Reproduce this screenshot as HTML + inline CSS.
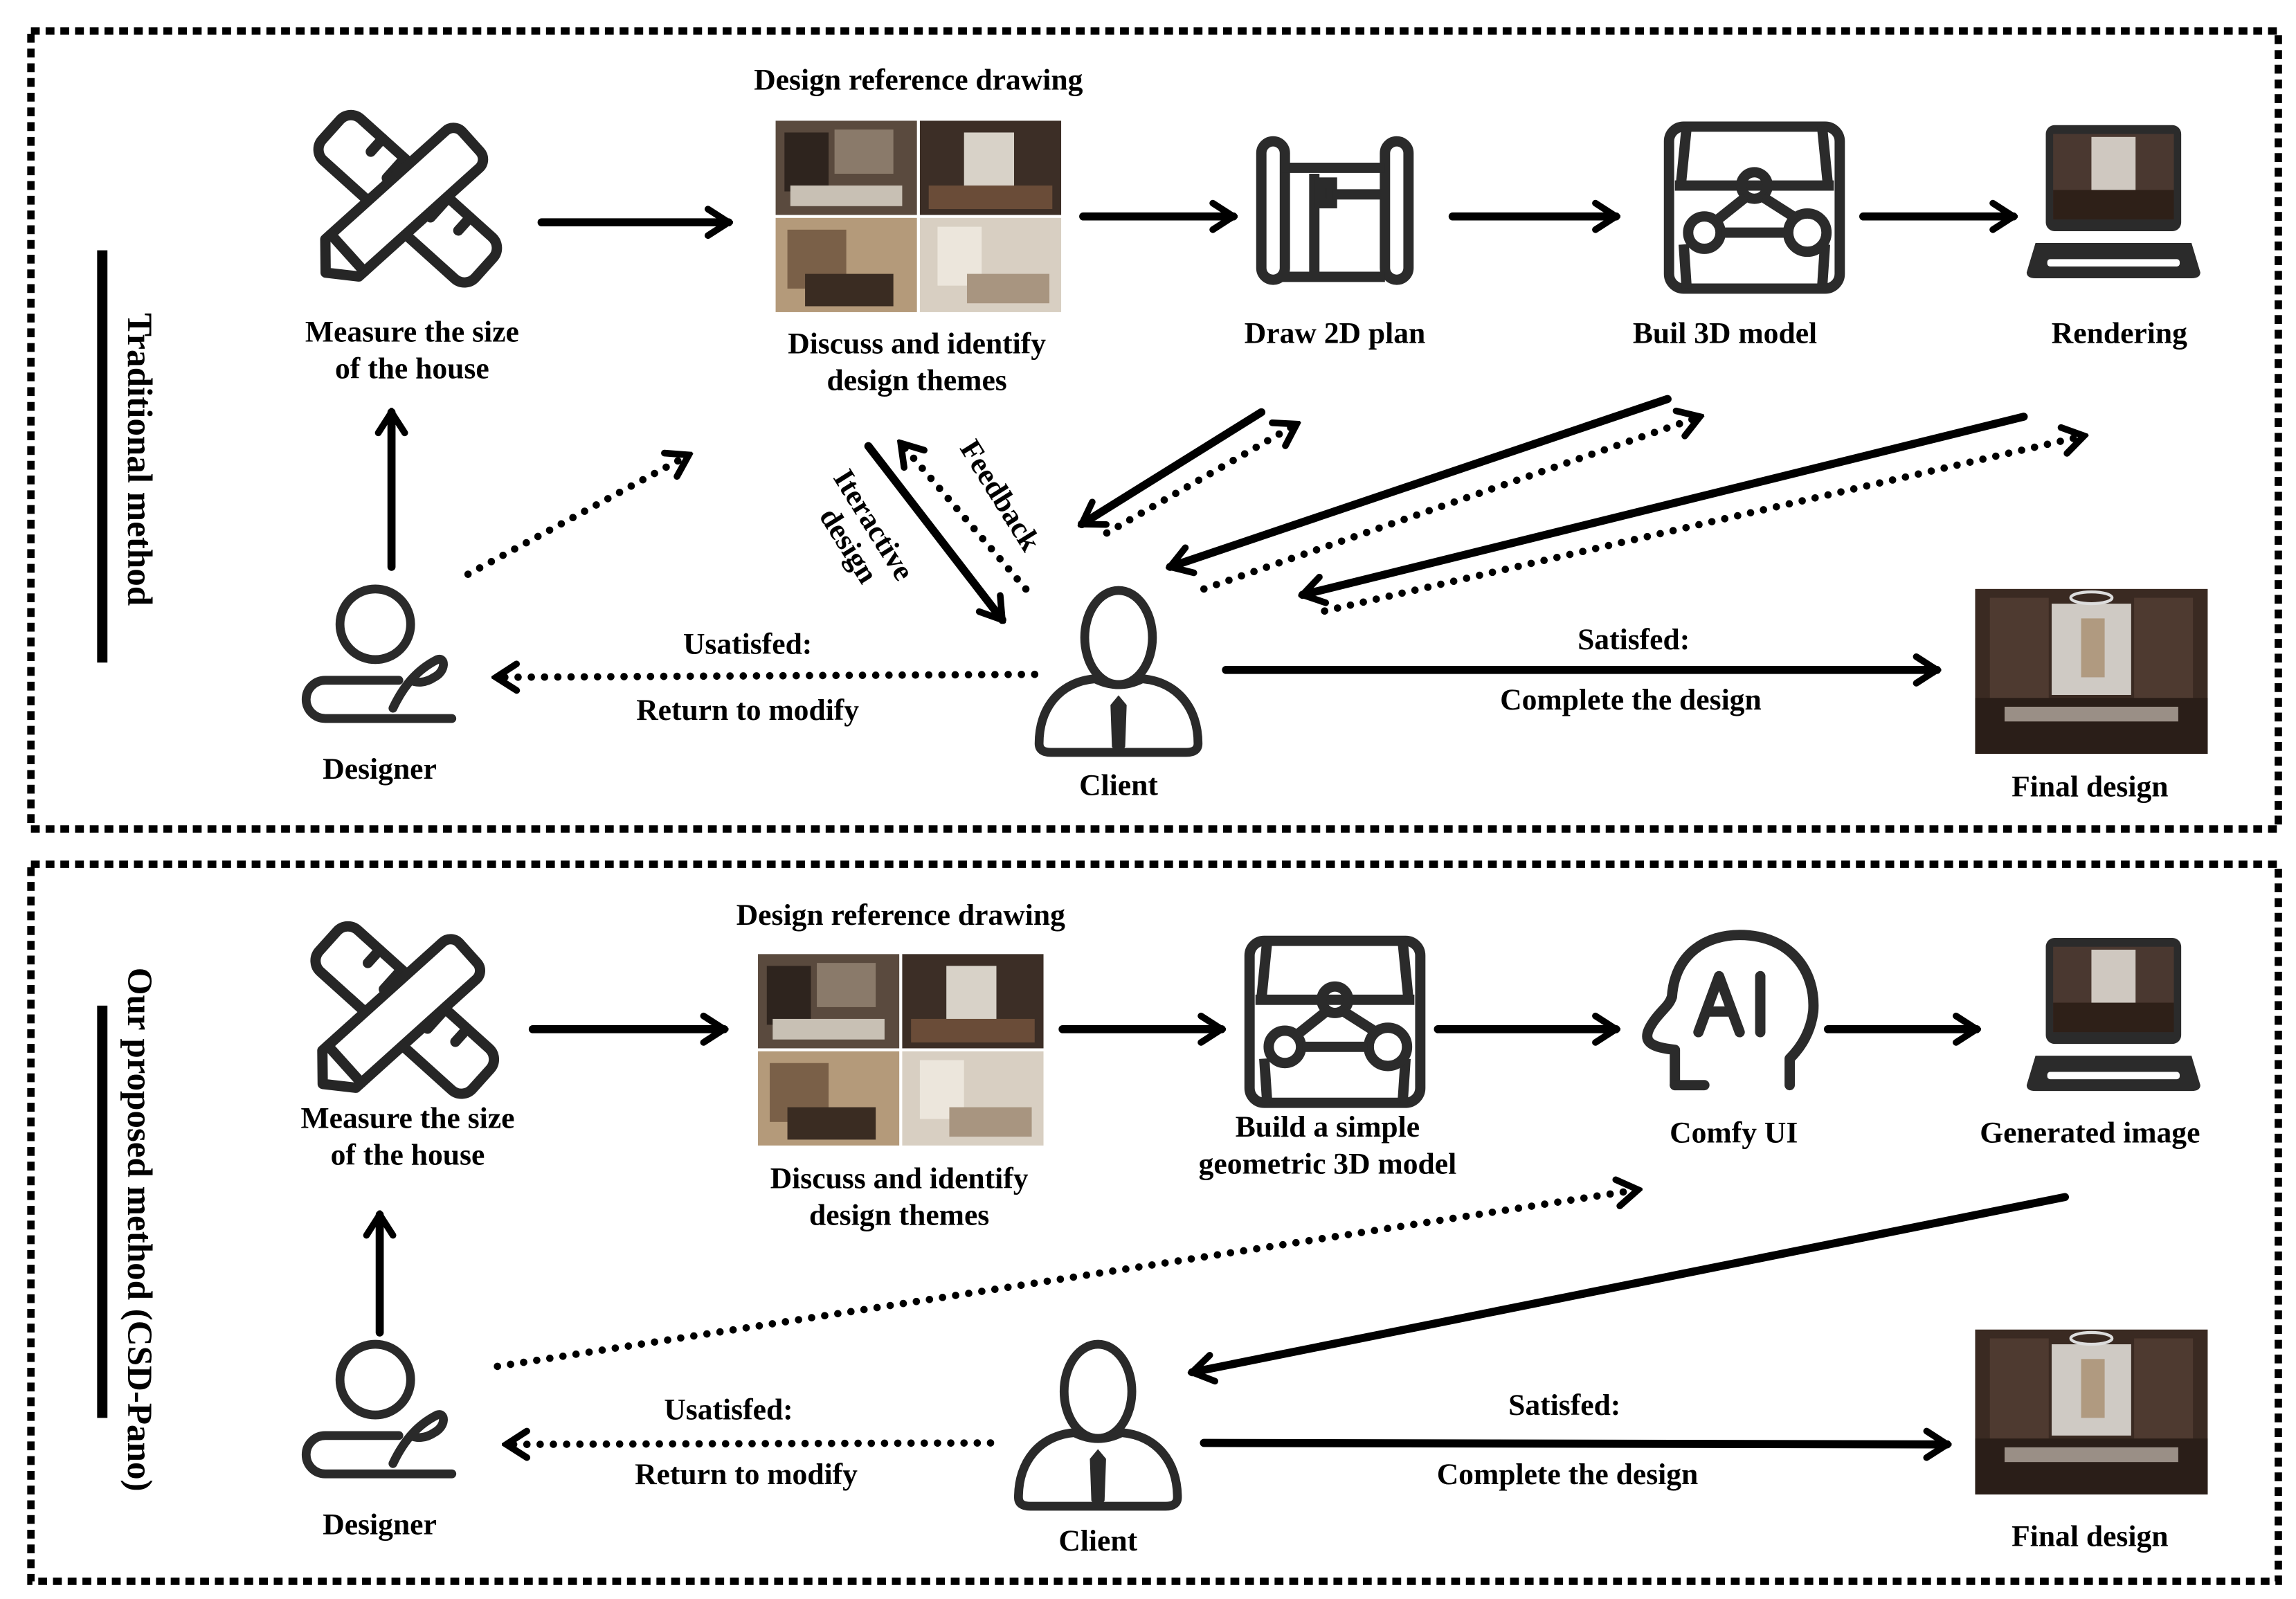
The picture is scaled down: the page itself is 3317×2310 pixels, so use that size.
<!DOCTYPE html>
<html><head><meta charset="utf-8"><style>
html,body{margin:0;padding:0;background:#fff;}
svg{display:block;}
text{font-family:"Liberation Serif",serif;font-weight:bold;fill:#000;}
</style></head><body>
<svg width="3317" height="2310" viewBox="0 0 1560 1086" preserveAspectRatio="none" xmlns="http://www.w3.org/2000/svg">
<defs>
<marker id="ah" viewBox="0 0 20 24" refX="17" refY="12" markerWidth="20" markerHeight="24" markerUnits="userSpaceOnUse" orient="auto">
<path d="M3,3 L17,12 L3,21" fill="none" stroke="#000" stroke-width="4.5" stroke-linecap="round" stroke-linejoin="miter"/>
</marker>
<g id="photos">
<rect x="0" y="0" width="96" height="64" fill="#5a4a3e"/>
<rect x="6" y="8" width="30" height="40" fill="#2e241e"/>
<rect x="40" y="6" width="40" height="30" fill="#8a7a6a"/>
<rect x="10" y="44" width="76" height="14" fill="#c8c0b4"/>
<rect x="98" y="0" width="96" height="64" fill="#3c2e26"/>
<rect x="128" y="8" width="34" height="40" fill="#d8d2c8"/>
<rect x="104" y="44" width="84" height="16" fill="#6a4c38"/>
<rect x="0" y="66" width="96" height="64" fill="#b49a7a"/>
<rect x="8" y="74" width="40" height="40" fill="#7a6048"/>
<rect x="20" y="104" width="60" height="22" fill="#3a2c22"/>
<rect x="98" y="66" width="96" height="64" fill="#d8cfc2"/>
<rect x="110" y="72" width="30" height="40" fill="#ece6dc"/>
<rect x="130" y="104" width="56" height="20" fill="#a89580"/>
</g>
<g id="final">
<rect x="0" y="0" width="158" height="112" fill="#3a2a22"/>
<rect x="10" y="6" width="40" height="70" fill="#4e3a30"/>
<rect x="108" y="6" width="40" height="70" fill="#4e3a30"/>
<rect x="52" y="10" width="54" height="62" fill="#cfcac4"/>
<rect x="72" y="20" width="16" height="40" fill="#b09a80"/>
<rect x="0" y="74" width="158" height="38" fill="#2a1e18"/>
<rect x="20" y="80" width="118" height="10" fill="#9a8f86"/>
<ellipse cx="79" cy="6" rx="14" ry="4" fill="none" stroke="#ddd" stroke-width="2"/>
</g>
<g id="ruler" fill="none" stroke="#262626" stroke-width="7" stroke-linecap="round" stroke-linejoin="round">
<rect x="-70" y="-19" width="140" height="38" rx="10" transform="rotate(42)"/>
<path d="M-40,-19 v12 M-20,-19 v18 M0,-19 v12 M20,-19 v18 M40,-19 v12" transform="rotate(42)"/>
<path d="M-60,-17 H50 a8,8 0 0 1 8,8 V9 a8,8 0 0 1 -8,8 H-60 L-75,0 Z" transform="rotate(-42)" fill="#fff"/>
<path d="M-55,-17 V17" transform="rotate(-42)"/>
</g>
<g id="designer" fill="none" stroke="#2a2a2a" stroke-width="6" stroke-linecap="round">
<circle cx="0" cy="0" r="24"/>
<path d="M52,64 H-34 a13,13 0 0 1 0,-26 H16"/>
<path d="M12,57 C20,40 30,30 42,24 C48,22 48,32 40,36 C34,40 28,40 24,38"/>
</g>
<g id="client" fill="none" stroke="#2a2a2a" stroke-width="6">
<ellipse cx="0" cy="0" rx="23" ry="32"/>
<path d="M-54,72 C-54,48 -40,30 -16,28 Q0,36 16,28 C40,30 54,48 54,72 Q54,78 46,78 H-46 Q-54,78 -54,72 Z"/>
<path d="M0,40 L-5,46 L-4,74 L0,80 L4,74 L5,46 Z" fill="#2a2a2a" stroke-width="1"/>
</g>
<g id="box" fill="none" stroke="#2b2b2b" stroke-width="7" stroke-linejoin="round">
<rect x="0" y="0" width="116" height="110" rx="10"/>
<path d="M12,0 L8,40 M104,0 L108,40 M4,40 H112"/>
<path d="M12,110 L10,80 M104,110 L106,80"/>
<circle cx="58" cy="40" r="9"/>
<circle cx="24" cy="72" r="11"/>
<circle cx="94" cy="72" r="13"/>
<path d="M52,48 L32,64 M64,48 L86,62 M36,72 H80"/>
</g>
<g id="laptop">
<rect x="13" y="0" width="92" height="72" rx="6" fill="#2b2b2b"/>
<rect x="18" y="6" width="82" height="58" fill="#4a3830"/>
<rect x="44" y="8" width="30" height="44" fill="#cfc8c0"/>
<rect x="18" y="44" width="82" height="20" fill="#2e2018"/>
<path d="M6,80 H112 L118,100 Q118,104 112,104 H6 Q0,104 0,100 Z" fill="#2b2b2b"/>
<rect x="14" y="91" width="90" height="5" rx="2" fill="#fff"/>
</g>
</defs>

<rect x="21" y="21" width="1527" height="542" fill="none" stroke="#000" stroke-width="5" stroke-dasharray="6 4"/>
<rect x="21" y="587" width="1527" height="487" fill="none" stroke="#000" stroke-width="5" stroke-dasharray="6 4"/>

<rect x="66" y="170" width="7" height="280" fill="#000"/>
<text transform="translate(87,312) rotate(90)" text-anchor="middle" font-size="24">Traditional method</text>
<rect x="66" y="683" width="7" height="280" fill="#000"/>
<text transform="translate(87,835) rotate(90)" text-anchor="middle" font-size="24">Our proposed method (CSD-Pano)</text>

<g font-size="20.5" text-anchor="middle">
<use href="#ruler" x="277" y="135"/>
<text x="280" y="232">Measure the size</text>
<text x="280" y="257">of the house</text>
<text x="624" y="61">Design reference drawing</text>
<use href="#photos" x="527" y="82"/>
<text x="623" y="240">Discuss and identify</text>
<text x="623" y="265">design themes</text>
<g transform="translate(853,92)" fill="none" stroke="#2b2b2b" stroke-width="7">
<rect x="4" y="4" width="16" height="94" rx="8"/>
<rect x="88" y="4" width="16" height="94" rx="8"/>
<path d="M18,22 H88 M18,96 H88 M40,26 V94"/>
<rect x="44" y="32" width="8" height="14" fill="#2b2b2b"/>
<path d="M52,40 H86"/>
</g>
<text x="907" y="233">Draw 2D plan</text>
<use href="#box" x="1134" y="86"/>
<text x="1172" y="233">Buil 3D model</text>
<use href="#laptop" x="1377" y="85"/>
<text x="1440" y="233">Rendering</text>
<use href="#designer" x="255" y="424"/>
<text x="258" y="529">Designer</text>
<use href="#client" x="760" y="433"/>
<text x="760" y="540">Client</text>
<use href="#final" x="1342" y="400"/>
<text x="1420" y="541">Final design</text>
<text x="508" y="444">Usatisfed:</text>
<text x="508" y="489">Return to modify</text>
<text x="1110" y="441">Satisfed:</text>
<text x="1108" y="482">Complete the design</text>
<text transform="translate(588,360) rotate(58)" text-anchor="middle">Iteractive</text>
<text transform="translate(571,374) rotate(58)" text-anchor="middle">design</text>
<text transform="translate(674,340) rotate(58)" text-anchor="middle">Feedback</text>

<use href="#ruler" x="275" y="686"/>
<text x="277" y="766">Measure the size</text>
<text x="277" y="791">of the house</text>
<text x="612" y="628">Design reference drawing</text>
<use href="#photos" x="515" y="648"/>
<text x="611" y="807">Discuss and identify</text>
<text x="611" y="832">design themes</text>
<use href="#box" x="849" y="639"/>
<text x="902" y="772">Build a simple</text>
<text x="902" y="797">geometric 3D model</text>
<g transform="translate(1120,633)" fill="none" stroke="#2b2b2b" stroke-width="7" stroke-linecap="round" stroke-linejoin="round">
<path d="M18,104 V80 C0,78 -6,74 4,60 C10,52 14,50 16,44 C18,14 40,2 62,2 C96,2 114,26 112,54 C110,70 102,80 96,86 V104"/>
<path d="M18,104 H38"/>
<path d="M34,68 L48,30 L62,68 M40,54 H56"/>
<path d="M76,30 V68"/>
</g>
<text x="1178" y="776">Comfy UI</text>
<use href="#laptop" x="1377" y="637"/>
<text x="1420" y="776">Generated image</text>
<use href="#designer" x="255" y="937"/>
<text x="258" y="1042">Designer</text>
<use href="#client" x="746" y="945"/>
<text x="746" y="1053">Client</text>
<use href="#final" x="1342" y="903"/>
<text x="1420" y="1050">Final design</text>
<text x="495" y="964">Usatisfed:</text>
<text x="507" y="1008">Return to modify</text>
<text x="1063" y="961">Satisfed:</text>
<text x="1065" y="1008">Complete the design</text>
</g>

<g stroke="#000" stroke-width="5.5" stroke-linecap="round" fill="none" marker-end="url(#ah)">
<line x1="368" y1="151" x2="495" y2="151"/>
<line x1="736" y1="147" x2="838" y2="147"/>
<line x1="987" y1="147" x2="1098" y2="147"/>
<line x1="1266" y1="147" x2="1368" y2="147"/>
<line x1="266" y1="385" x2="266" y2="280"/>
<line x1="590" y1="303" x2="681" y2="421"/>
<line x1="857" y1="280" x2="735" y2="356"/>
<line x1="1133" y1="271" x2="795" y2="385"/>
<line x1="1375" y1="283" x2="885" y2="404"/>
<line x1="833" y1="455" x2="1316" y2="455"/>
<line x1="362" y1="699" x2="492" y2="699"/>
<line x1="722" y1="699" x2="830" y2="699"/>
<line x1="977" y1="699" x2="1098" y2="699"/>
<line x1="1242" y1="699" x2="1343" y2="699"/>
<line x1="258" y1="905" x2="258" y2="825"/>
<line x1="1403" y1="813" x2="810" y2="932"/>
<line x1="818" y1="980" x2="1323" y2="981"/>
</g>
<g stroke="#000" stroke-width="5" stroke-linecap="round" fill="none" stroke-dasharray="0 9" marker-end="url(#ah)">
<line x1="318" y1="390" x2="468" y2="309"/>
<line x1="697" y1="400" x2="612" y2="301"/>
<line x1="752" y1="362" x2="881" y2="288"/>
<line x1="818" y1="400" x2="1155" y2="283"/>
<line x1="900" y1="415" x2="1416" y2="296"/>
<line x1="703" y1="458" x2="337" y2="460"/>
<line x1="338" y1="928" x2="1113" y2="808"/>
<line x1="673" y1="980" x2="344" y2="981"/>
</g>
</svg>
</body></html>
